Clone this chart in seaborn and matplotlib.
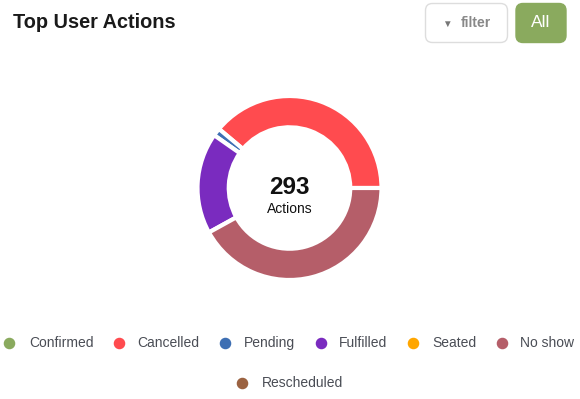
import matplotlib
matplotlib.use("Agg")
import matplotlib.pyplot as plt
import seaborn as sns
from matplotlib.patches import FancyBboxPatch

# data
actions = ["Confirmed", "Cancelled", "Pending", "Fulfilled", "Seated", "No show", "Rescheduled"]
counts = [0, 114, 4, 52, 0, 123, 0]
colors = ["#8aaa5e", "#ff4b4f", "#3e6fb3", "#7a2bbf", "#ffa600", "#b55e69", "#9b6241"]

sns.set_theme(style="white")
plt.rcParams['font.family'] = ['Liberation Sans', 'DejaVu Sans']

W, H = 580, 399
fig = plt.figure(figsize=(W / 100, H / 100), dpi=100)

# overlay axes in pixel coordinates for header and legend
bg = fig.add_axes([0, 0, 1, 1])
bg.set_xlim(0, W)
bg.set_ylim(H, 0)
bg.axis("off")

bg.text(13, 23, "Top User Actions", fontsize=14.3, fontweight="bold", color="#1a1a1a", va="center")

# filter button
bg.add_patch(FancyBboxPatch((425.5, 3.5), 82, 39, boxstyle="round,pad=0,rounding_size=7",
                            facecolor="white", edgecolor="#dddddd", lw=1))
bg.text(447, 23.5, "▼", fontsize=7, color="#777777", ha="center", va="center")
bg.text(476, 23, "filter", fontsize=10, fontweight="bold", color="#888888", ha="center", va="center")
# All button
bg.add_patch(FancyBboxPatch((516, 3.5), 50, 39, boxstyle="round,pad=0,rounding_size=7",
                            facecolor="#8aaa5e", edgecolor="#8aaa5e", lw=1))
bg.text(541, 22.5, "All", fontsize=12.5, color="white", ha="center", va="center")

# legend
pos = [(9, 29), (119, 137), (225, 244), (321, 339), (413, 432), (502, 520), (242, 262)]
for i, name in enumerate(actions):
    mx, tx = pos[i]
    y = 343 if i < 6 else 383
    bg.plot(mx, y, "o", ms=7.3, color=colors[i], mec=colors[i])
    bg.text(tx, y, name, fontsize=10, color="#4a4d55", va="center")

# donut
ax = fig.add_axes([197.5 / W, 1 - 280 / H, 184 / W, 184 / H])
vals = [c for c in counts if c > 0]
cols = [colors[i] for i, c in enumerate(counts) if c > 0]
ax.pie(vals, colors=cols, startangle=0, counterclock=True, radius=1,
       wedgeprops=dict(width=0.34, edgecolor="white", linewidth=3))
ax.set_xlim(-1, 1)
ax.set_ylim(-1, 1)
ax.set_aspect("equal")
ax.text(0, -0.07, str(sum(counts)), fontsize=17.5, fontweight="bold", color="#111111", ha="center", va="baseline")
ax.text(0, -0.27, "Actions", fontsize=10, color="#111111", ha="center", va="baseline")

fig.savefig("out.png", dpi=100)
